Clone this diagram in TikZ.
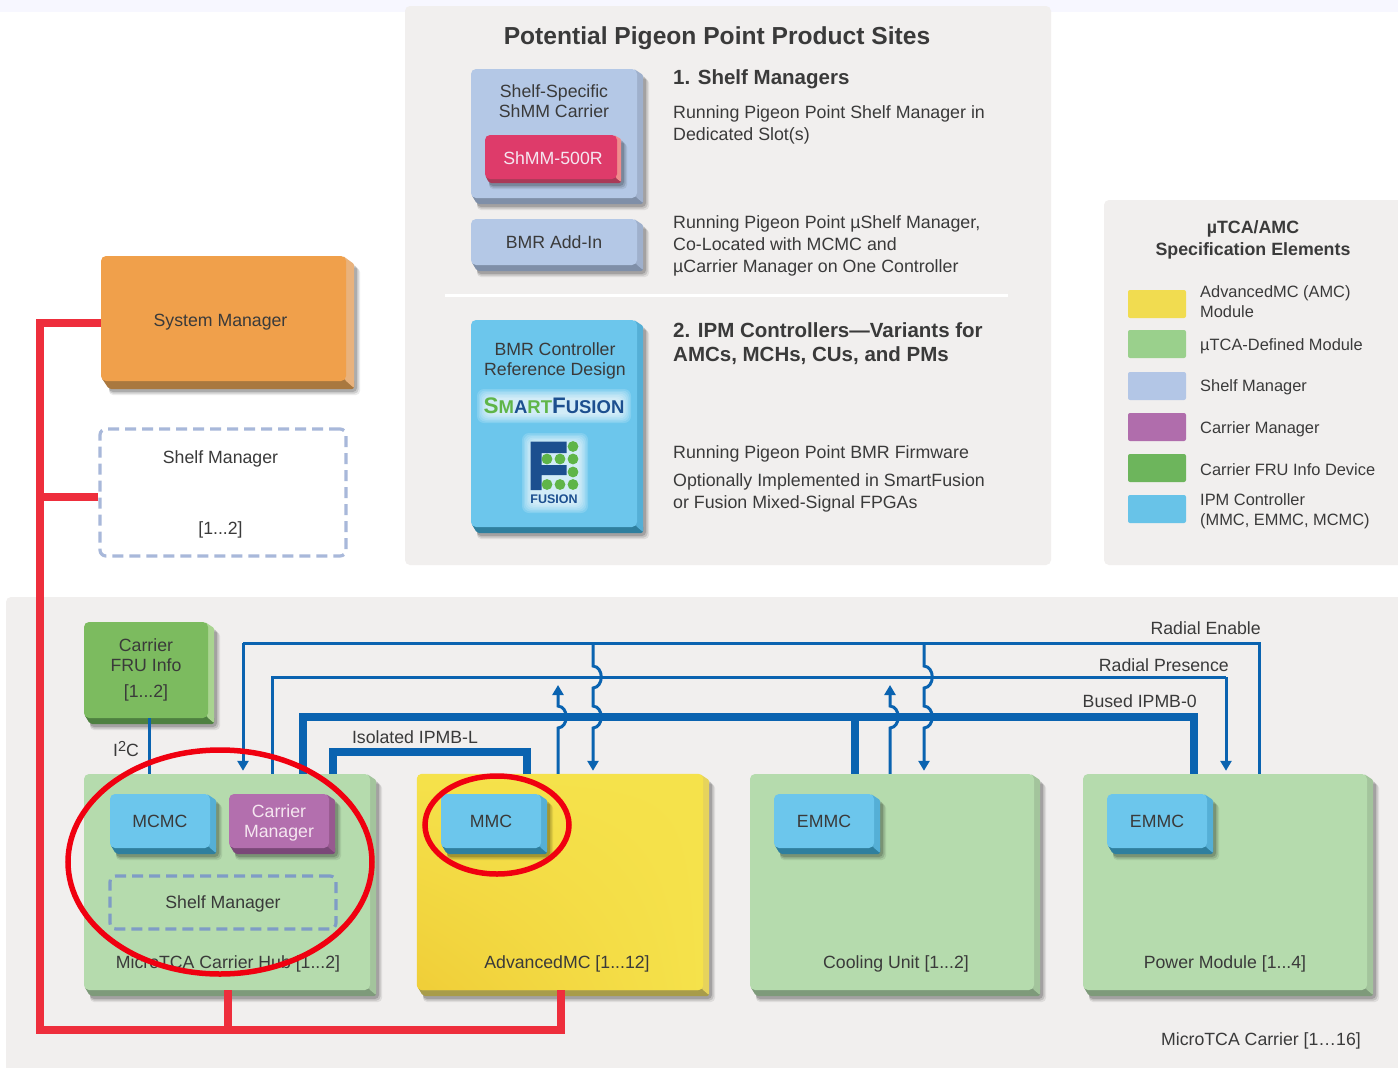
\documentclass[tikz,border=0pt]{standalone}
\usepackage{fontspec}
\setmainfont{Liberation Sans}
\usetikzlibrary{arrows.meta,calc,shadings}
\definecolor{panel}{HTML}{F1EFEE}
\definecolor{txt}{HTML}{3A3A3A}
\definecolor{bluebus}{HTML}{0A63B0}
\definecolor{redbus}{HTML}{EE2E3C}
\definecolor{ringred}{HTML}{F00010}
\definecolor{lightlabel}{HTML}{F5E6F0}
\definecolor{dashout}{HTML}{A8B8DA}
\definecolor{dashin}{HTML}{7F9CC6}
\definecolor{goldlow}{HTML}{F0CE38}
\definecolor{orange-f}{HTML}{F0A04B}\definecolor{orange-b}{HTML}{A9783F}\definecolor{orange-s}{HTML}{E9B27C}
\definecolor{sky-f}{HTML}{B4C8E6}\definecolor{sky-b}{HTML}{7F8FA8}\definecolor{sky-s}{HTML}{9FB0CC}
\definecolor{rose-f}{HTML}{DE3B6A}\definecolor{rose-b}{HTML}{A93A58}\definecolor{rose-s}{HTML}{EF8C8C}
\definecolor{cyan-f}{HTML}{6CC6EC}\definecolor{cyan-b}{HTML}{2F7F9E}\definecolor{cyan-s}{HTML}{55AFD6}
\definecolor{leaf-f}{HTML}{7CBB5F}\definecolor{leaf-b}{HTML}{4E8040}\definecolor{leaf-s}{HTML}{A9D490}
\definecolor{mint-f}{HTML}{B5DBAD}\definecolor{mint-b}{HTML}{7E9A7A}\definecolor{mint-s}{HTML}{A3C49C}
\definecolor{gold-f}{HTML}{F5E24B}\definecolor{gold-b}{HTML}{A89C4A}\definecolor{gold-s}{HTML}{E6D35C}
\definecolor{plum-f}{HTML}{B36FAE}\definecolor{plum-b}{HTML}{7A4878}\definecolor{plum-s}{HTML}{97598F}
\definecolor{fblue}{HTML}{1C4F8F}\definecolor{fgreen}{HTML}{5FB548}
\newcommand\fs[1]{\fontsize{#1}{#1}\selectfont}
\tikzset{
  lbl/.style={inner sep=0pt,text=txt,align=center,font=\fontsize{17.7}{20}\selectfont},
  body/.style={inner sep=0pt,text=txt,align=left,anchor=west,font=\fontsize{17.8}{22}\selectfont},
  head/.style={inner sep=0pt,text=txt,align=left,anchor=west,font=\fontsize{20.5}{24}\selectfont\bfseries},
  legendtxt/.style={inner sep=0pt,text=txt,align=left,anchor=west,font=\fontsize{16.4}{20}\selectfont},
  swatch/.style={rounded corners=2pt,minimum width=58pt,minimum height=28pt,inner sep=0pt},
  thinbus/.style={draw=bluebus,line width=3pt},
  thickbus/.style={draw=bluebus,line width=7.5pt},
  redwire/.style={draw=redbus,line width=7.5pt},
  tip/.style={-{Triangle[length=10pt,width=11pt]},shorten >=3pt},
  ring/.style={draw=ringred,line width=5.5pt},
  dashbox/.style={draw=#1,line width=3.2pt,dash pattern=on 11pt off 6pt,rounded corners=6pt,inner sep=0pt},
}
% \tbox[depth]{name}{x1,y1,x2,y2}{colour key}{text colour}{text}
\def\tboxparse#1,#2,#3,#4;{\def\xa{#1}\def\ya{#2}\def\xb{#3}\def\yb{#4}}
\newcommand\tbox[6][6]{%
  \tboxparse#3;%
  \pgfmathsetmacro\dd{#1}%
  \pgfmathsetmacro\ww{\xb-\xa}\pgfmathsetmacro\hh{\yb-\ya}%
  \pgfmathsetmacro\cx{(\xa+\xb)/2}\pgfmathsetmacro\cy{(\ya+\yb)/2}%
  \foreach \o/\q in {6/.08,4.5/.12,3/.16}{%
    \fill[black,opacity=\q,rounded corners=4pt] (\xa+\dd,\ya+\dd+\o-2) rectangle (\xb+\dd+\o,\yb+\dd+\o);}%
  \fill[#4-b,rounded corners=2pt] (\xa,\yb-4) -- (\xa+\dd,\yb+\dd) -- (\xb+\dd,\yb+\dd) -- (\xb+\dd,\yb-2) -- (\xb,\yb-4) -- cycle;%
  \fill[#4-s,rounded corners=1pt] (\xb-3,\ya) -- (\xb+\dd,\ya+\dd) -- (\xb+\dd,\yb+\dd-1) -- (\xb-1,\yb-1) -- cycle;%
  \node[rounded corners=5pt,fill=#4-f,minimum width=\ww pt,minimum height=\hh pt,inner sep=0pt,
        text=#5,align=center,font=\fontsize{17.7}{20}\selectfont] (#2) at (\cx,\cy) {#6};%
}
\begin{document}
\begin{tikzpicture}[x=1pt,y=-1pt]
\useasboundingbox (0,0) rectangle (1398,1068);
\fill[white] (0,0) rectangle (1398,1068);
\fill[blue!3!white] (0,0) rectangle (1398,12);
% panels
\fill[panel,rounded corners=5pt] (405,6) rectangle (1051,565);
\fill[panel,rounded corners=5pt] (1104,200) rectangle (1410,565);
\fill[panel,rounded corners=5pt] (6,597) rectangle (1410,1080);
\node[inner sep=0pt,text=txt,font=\fs{24.6}\bfseries] (sitesTitle) at (717,38) {Potential Pigeon Point Product Sites};
% product sites
\tbox{shelfcarrier}{471,69,637,198}{sky}{txt}{}
\node[lbl] (shelfcarrierLbl) at (554,101) {Shelf-Specific\\ShMM Carrier};
\tbox[4]{shmm}{485,135,617,179}{rose}{lightlabel}{}
\node[lbl,text=lightlabel] (shmmLbl) at (553,158) {ShMM-500R};
\tbox{bmraddin}{471,219,637,265}{sky}{txt}{BMR Add-In}
\tbox{bmrctrl}{471,320,637,527}{cyan}{txt}{}
\node[lbl] (bmrctrlLbl) at (555,360.5) {BMR Controller\\Reference Design};
\foreach \g in {9,7.5,6,4.5,3,1.5,0}{
  \fill[white,opacity=.16,rounded corners=7pt] (486-\g,398-\g) rectangle (622+\g,414+\g);
  \fill[white,opacity=.16,rounded corners=7pt] (531-\g,442-\g) rectangle (579+\g,504+\g);}
\node[inner sep=0pt,font=\bfseries] (smartfusion) at (554,406)
  {\textcolor{fgreen}{\fs{22.5}S\fs{18.5}M}\textcolor{fblue}{\fs{18.5}A}\textcolor{fgreen}{\fs{18.5}RT}\textcolor{fblue}{\fs{22.5}F\fs{18.5}USION}};
\fill[fblue] (530.7,441.7) -- (566.7,441.7) -- (566.7,453) -- (541.7,453) -- (541.7,465) -- (566.7,465) -- (566.7,475) -- (541.7,475) -- (541.7,490) -- (530.7,490) -- cycle;
\foreach \px/\py in {573/446.5,573/459,560/459,547/459,573/472,573/484.5,560/484.5,547/484.5}
  \fill[fgreen] (\px,\py) circle (5.4pt);
\node[inner sep=0pt,text=fblue,font=\fs{12.5}\bfseries] (fusionword) at (554,499) {FUSION};
\draw[white,line width=3pt] (445,295) -- (1008,295);
\node[head] (h1) at (673,79) {1. Shelf Managers};
\node[body] (t1) at (673,125) {Running Pigeon Point Shelf Manager in\\Dedicated Slot(s)};
\node[body] (t2) at (673,246) {Running Pigeon Point µShelf Manager,\\Co-Located with MCMC and\\µCarrier Manager on One Controller};
\node[head] (h2) at (673,344) {2. IPM Controllers—Variants for\\AMCs, MCHs, CUs, and PMs};
\node[body] (t3) at (673,454) {Running Pigeon Point BMR Firmware};
\node[body] (t4) at (673,493) {Optionally Implemented in SmartFusion\\or Fusion Mixed-Signal FPGAs};
% legend
\node[inner sep=0pt,text=txt,align=center,font=\fontsize{17.8}{22}\selectfont\bfseries] (legendTitle) at (1253,240) {µTCA/AMC\\Specification Elements};
\foreach \n/\y/\ty/\c/\t in {a/304/302/F1DC50/{AdvancedMC (AMC)\\Module},b/344/346/9AD08C/{µTCA-Defined Module},c/386/387/B3C6E6/{Shelf Manager},d/427/429/B06DAC/{Carrier Manager},e/468/470/6DB55C/{Carrier FRU Info Device},f/509/511/68C3E8/{IPM Controller\\(MMC, EMMC, MCMC)}}{
  \definecolor{swc}{HTML}{\c}
  \node[swatch,fill=swc] (sw\n) at (1157,\y) {};
  \node[legendtxt] (lg\n) at (1200,\ty) {\t};
}
% system manager
\tbox[8]{sysmgr}{101,256,346,381}{orange}{txt}{}
\node[lbl] (sysmgrLbl) at (220.5,322) {System Manager};
\node[dashbox=dashout,minimum width=246pt,minimum height=127pt] (shelfext) at (223,492.5) {};
\node[lbl] (shelfextA) at (220.5,459) {Shelf Manager};
\node[lbl] (shelfextB) at (220.5,530) {[1...2]};
% carrier
\tbox{fru}{84,622,208,718}{leaf}{txt}{}
\node[lbl] (fruA) at (146,655.5) {Carrier\\FRU Info};
\node[lbl] (fruB) at (146,693) {[1...2]};
% module boxes
\tbox{mch}{84,774,370,990}{mint}{txt}{}
\tbox{amc}{417,774,703,990}{gold}{txt}{}
\tbox{cu}{750,774,1034,990}{mint}{txt}{}
\tbox{pm}{1083,774,1367,990}{mint}{txt}{}
\shade[rounded corners=5pt,lower left=goldlow,lower right=gold-f,upper left=gold-f,upper right=gold-f] (amc.north west) rectangle (amc.south east);
\tbox{mcmc}{110,794,210,848}{cyan}{txt}{MCMC}
\tbox{carmgr}{229,794,329,848}{plum}{lightlabel}{}
\node[lbl,text=lightlabel] (carmgrLbl) at (279,822.5) {Carrier\\Manager};
\node[dashbox=dashin,minimum width=226pt,minimum height=53pt] (shelfint) at (223,902.5) {};
\node[lbl] (shelfintT) at (223,904) {Shelf Manager};
\tbox{mmc}{441,794,541,848}{cyan}{txt}{MMC}
\tbox{emmcA}{774,794,874,848}{cyan}{txt}{EMMC}
\tbox{emmcB}{1107,794,1207,848}{cyan}{txt}{EMMC}
\node[lbl] (mchT) at (228,964) {MicroTCA Carrier Hub [1...2]};
\node[lbl] (amcT) at (567,964) {AdvancedMC [1...12]};
\node[lbl] (cuT) at (896,964) {Cooling Unit [1...2]};
\node[lbl] (pmT) at (1225,964) {Power Module [1...4]};
\node[lbl,anchor=east] (carrierT) at (1361,1041) {MicroTCA Carrier [1…16]};
% red bus
\coordinate (rTop) at (40,323);
\coordinate (rMid) at (40,497);
\coordinate (rBot) at (40,1030);
\coordinate (rMch) at (228,1030);
\coordinate (rAmc) at (561,1030);
\draw[redwire] (sysmgr.west |- rTop) -- (rTop) -- (rBot) -- (rAmc) -- (rAmc |- amc.south);
\draw[redwire] (shelfext.west |- rMid) -- (rMid);
\draw[redwire] (rMch) -- (rMch |- mch.south);
% buses
\coordinate (reL) at (243,643);
\coordinate (reR) at (1259,643);
\coordinate (rpL) at (272,677);
\coordinate (rpR) at (1226,677);
\coordinate (buL) at (303,717);
\coordinate (buM) at (855,717);
\coordinate (buR) at (1194,717);
\coordinate (isL) at (333,752);
\coordinate (isR) at (527,752);
\coordinate (i2cX) at (149,0);
\draw[thinbus] (i2cX |- fru.south) -- (i2cX |- mch.north);
\draw[thinbus] (reR |- pm.north) -- (reR) -- (reL);
\draw[thinbus,tip] (reL) -- (reL |- mch.north);
\draw[thinbus] (rpL |- mch.north) -- (rpL) -- (rpR);
\draw[thinbus,tip] (rpR) -- (rpR |- pm.north);
\draw[thickbus] (buL |- mch.north) -- (buL) -- (buR) -- (buR |- pm.north);
\draw[thickbus] (buM) -- (buM |- cu.north);
\draw[thickbus] (isL |- mch.north) -- (isL) -- (isR) -- (isR |- amc.north);
\foreach \x/\n in {593/amc,924/cu}{
  \coordinate (dTop\n) at (\x,643);
  \coordinate (dX\n) at (\x,0);
  \draw[thinbus,tip] (dTop\n) -- (\x,666) .. controls (\x+11,667) and (\x+11,687) .. (\x,688)
     -- (\x,706) .. controls (\x+11,707) and (\x+11,727) .. (\x,728) -- (dX\n |- \n.north);
}
\foreach \x/\n in {558/amc,890/cu}{
  \coordinate (uTop\n) at (\x,682);
  \coordinate (uX\n) at (\x,0);
  \draw[thinbus,tip] (uX\n |- \n.north) -- (\x,728) .. controls (\x+11,727) and (\x+11,707) .. (\x,706) -- (uTop\n);
}
% bus labels
\node[lbl,anchor=east] (lRE) at (1261,628) {Radial Enable};
\node[lbl,anchor=east] (lRP) at (1229,665) {Radial Presence};
\node[lbl,anchor=east] (lBI) at (1197,701) {Bused IPMB-0};
\node[lbl] (lIS) at (415,737) {Isolated IPMB-L};
\node[lbl] (lI2) at (126,749) {I\raisebox{5pt}{\fs{14.5}2}C};
% rings
\draw[ring] (220,862) ellipse (152pt and 112pt);
\draw[ring] (497,825) ellipse (72pt and 49pt);
\end{tikzpicture}
\end{document}
